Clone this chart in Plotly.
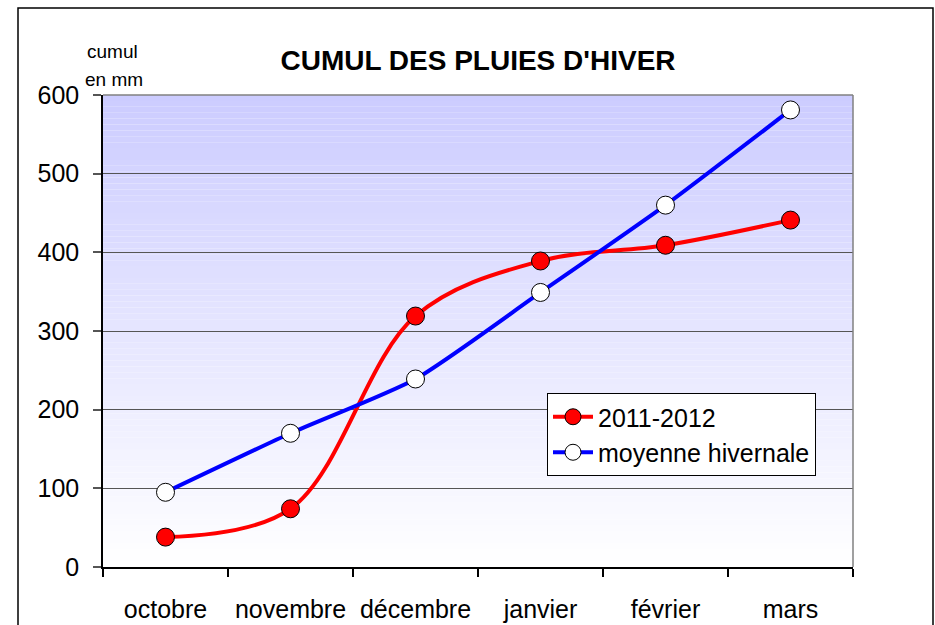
import plotly.graph_objects as go

months = ["octobre", "novembre", "décembre", "janvier", "février", "mars"]
cumul_2011_2012 = [38, 74, 319, 389, 409, 441]
moyenne_hivernale = [95, 170, 239, 349, 460, 581]
y_ticks = [0, 100, 200, 300, 400, 500, 600]

FONT = "Liberation Sans"

# plot-area geometry in pixels (used to convert page positions to paper coords)
PL, PR, PT, PB = 103, 853, 95, 567
def px(x):
    return (x - PL) / (PR - PL)
def py(y):
    return (PB - y) / (PB - PT)

fig = go.Figure()

fig.add_trace(go.Scatter(
    x=months, y=cumul_2011_2012, name="2011-2012",
    mode="lines+markers", line=dict(color="#FF0000", width=4, shape="spline", smoothing=1.0),
    marker=dict(symbol="circle", size=18, color="#FF0000", line=dict(color="#000000", width=1)),
))
fig.add_trace(go.Scatter(
    x=months, y=moyenne_hivernale, name="moyenne hivernale",
    mode="lines+markers", line=dict(color="#0000FF", width=4, shape="spline", smoothing=0.6),
    marker=dict(symbol="circle", size=18, color="#FFFFFF", line=dict(color="#000000", width=1)),
))

# gradient background bands (top lavender -> bottom white)
shapes = []
n = 80
top = (204, 204, 255)
for i in range(n):
    t = i / (n - 1)
    r = int(round(255 + (top[0] - 255) * t))
    g = int(round(255 + (top[1] - 255) * t))
    shapes.append(dict(type="rect", xref="x domain", yref="y domain",
                       x0=0, x1=1, y0=i / n, y1=(i + 1) / n,
                       fillcolor=f"rgb({r},{g},255)", line=dict(width=0), layer="below"))
# plot border top/right (gray)
shapes.append(dict(type="line", xref="x domain", yref="y domain", x0=0, x1=1, y0=1, y1=1,
                   line=dict(color="#808080", width=1.5)))
shapes.append(dict(type="line", xref="x domain", yref="y domain", x0=1, x1=1, y0=0, y1=1,
                   line=dict(color="#808080", width=1.5)))
# outer frame
shapes.append(dict(type="rect", xref="paper", yref="paper",
                   x0=px(18), x1=px(933), y0=py(640), y1=py(8),
                   line=dict(color="#000000", width=1.5), layer="below"))

fig.update_layout(
    width=935, height=625,
    margin=dict(l=PL, r=935 - PR, t=PT, b=625 - PB, autoexpand=False),
    paper_bgcolor="#FFFFFF",
    plot_bgcolor="rgba(0,0,0,0)",
    font=dict(family=FONT, color="#000000", size=24),
    title=dict(text="<b>CUMUL DES PLUIES D'HIVER</b>", x=478 / 935, xanchor="center",
               y=1 - 60 / 625, yanchor="middle", yref="container",
               font=dict(family="Liberation Sans Narrow, " + FONT, size=28, color="#000000")),
    shapes=shapes,
    showlegend=True,
    legend=dict(x=px(547), y=py(393), xanchor="left", yanchor="top",
                bgcolor="#FFFFFF", bordercolor="#000000", borderwidth=1,
                font=dict(family=FONT, size=25), tracegroupgap=0, itemwidth=40),
    xaxis=dict(type="category", categoryorder="array", categoryarray=months,
               range=[-0.5, 5.5], showgrid=False, showline=True, linecolor="#000000", linewidth=1.5,
               ticks="outside", ticklen=8, tickcolor="#000000", tickwidth=1.5, tickson="boundaries",
               tickfont=dict(family=FONT, size=25), ticklabelstandoff=19, zeroline=False,
               automargin=False),
    yaxis=dict(range=[0, 600], tickvals=y_ticks, showgrid=True, gridcolor="#555555", gridwidth=1,
               showline=True, linecolor="#000000", linewidth=1.5, ticks="outside", ticklen=8,
               tickcolor="#555555", tickwidth=1.5, tickfont=dict(family=FONT, size=25),
               ticklabelstandoff=9, zeroline=False, automargin=False),
    annotations=[
        dict(text="cumul", xref="paper", yref="paper", x=px(112), y=py(52),
             showarrow=False, font=dict(family=FONT, size=19), xanchor="center", yanchor="middle"),
        dict(text="en mm", xref="paper", yref="paper", x=px(114), y=py(80),
             showarrow=False, font=dict(family=FONT, size=19), xanchor="center", yanchor="middle"),
    ],
)

fig.write_html("out.html", config={"displayModeBar": False},
               post_script="document.body.style.margin='0';")
